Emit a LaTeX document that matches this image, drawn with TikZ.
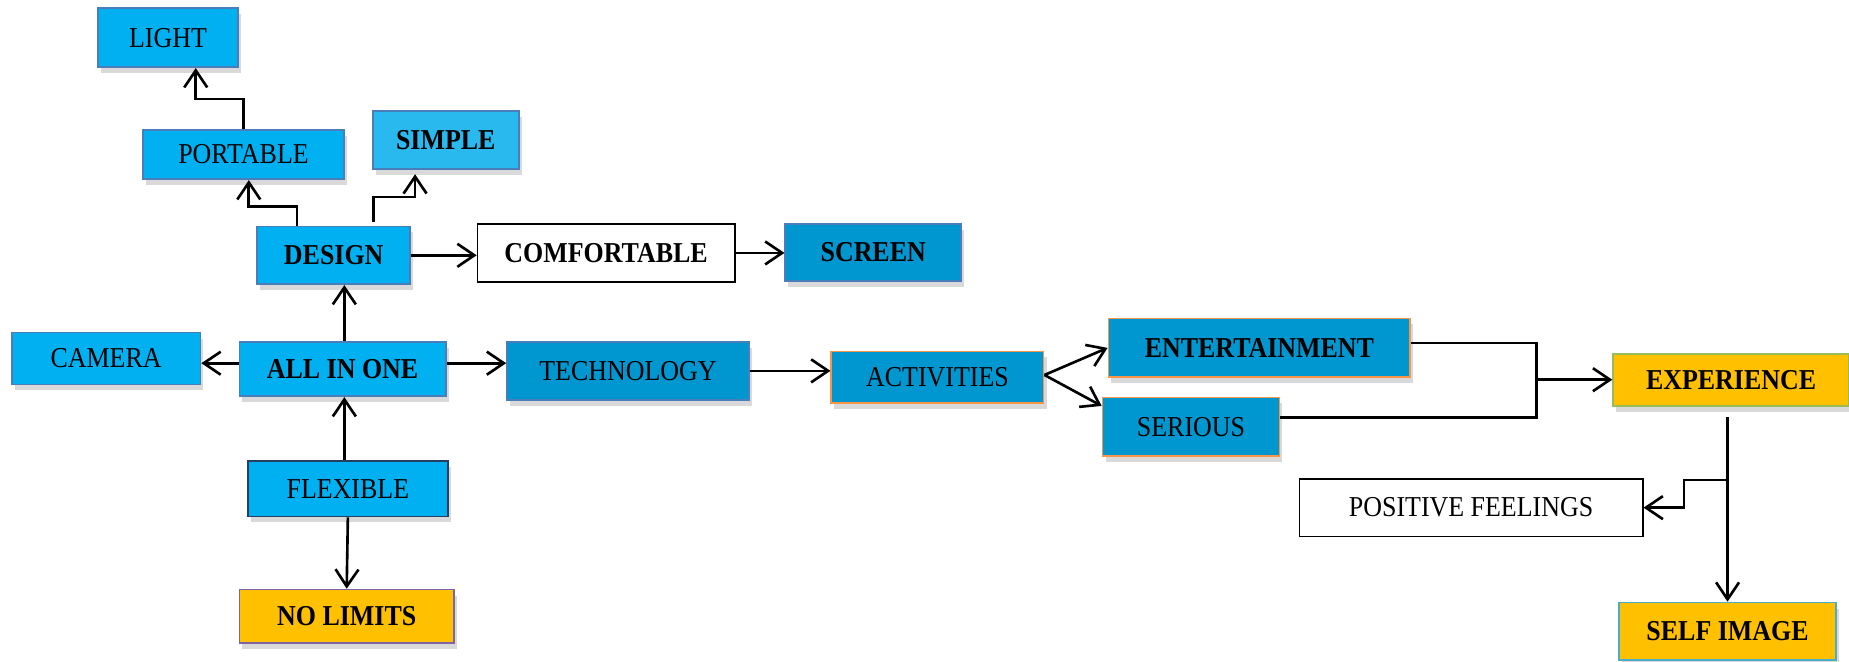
\documentclass[tikz,border=0pt]{standalone}
\usepackage{fontspec}
\setmainfont{Liberation Serif}[FakeStretch=0.9]
\usetikzlibrary{positioning,calc,arrows.meta,shadows}
\definecolor{skyblue}{HTML}{00B0F0}
\definecolor{paleblue}{HTML}{29B9EE}
\definecolor{deepblue}{HTML}{0096CF}
\definecolor{gold}{HTML}{FFC000}
\definecolor{edgeblue}{HTML}{4A7EBB}
\definecolor{edgeorange}{HTML}{F79646}
\definecolor{edgepurple}{HTML}{8064A2}
\definecolor{edgegreen}{HTML}{9BBB59}
\definecolor{edgeteal}{HTML}{4BACC6}
\definecolor{edgedark}{HTML}{243F60}
\begin{document}
\begin{tikzpicture}[x=0.1179mm, y=-0.1179mm,
    sz/.style 2 args={minimum width=#1*0.1179mm, minimum height=#2*0.1179mm},
    box/.style={draw, line width=0.5pt, inner sep=0pt, font=\fontsize{8.2}{9.8}\selectfont},
    bbox/.style={font=\fontsize{8.2}{9.8}\selectfont\bfseries},
    shade/.style={drop shadow={opacity=0.3, shadow xshift=0.3mm, shadow yshift=-0.6mm}},
    bluebox/.style={box, shade, fill=skyblue, draw=edgeblue},
    deepbox/.style={box, shade, fill=deepblue, draw=#1},
    goldbox/.style={box, shade, fill=gold, draw=#1},
    plainbox/.style={box, fill=white, draw=black},
    arr/.style={-{Straight Barb[length=1.7mm, width=2.3mm]}, line width=0.75pt},
    line/.style={line width=0.75pt}]
\useasboundingbox (0,0) rectangle (1568,561);

\node[bluebox, sz={119}{50}] (light) at (142.5,32) {LIGHT};
\node[bluebox, sz={171}{42}] (portable) at (206.5,131) {PORTABLE};
\node[bluebox, fill=paleblue, sz={124}{49}, bbox] (simple) at (378,118.5) {SIMPLE};
\node[bluebox, sz={130}{49}, bbox] (design) at (283,216.5) {DESIGN};
\node[plainbox, sz={218}{49}, bbox] (comfortable) at (514,214.5) {COMFORTABLE};
\node[deepbox=edgeblue, sz={149}{48}, bbox] (screen) at (740.5,214) {SCREEN};
\node[bluebox, sz={160}{44}] (camera) at (90,304) {CAMERA};
\node[bluebox, sz={175}{46}, bbox] (allinone) at (290.5,313) {ALL IN ONE};
\node[deepbox=edgeblue, sz={205}{49}] (technology) at (532.5,314.5) {TECHNOLOGY};
\node[deepbox=edgeorange, sz={180}{44}] (activities) at (795,320) {ACTIVITIES};
\node[deepbox=edgeorange, sz={256}{50}, bbox] (entertainment) at (1068,295) {ENTERTAINMENT};
\node[deepbox=edgeorange, sz={150}{50}] (serious) at (1010,362) {SERIOUS};
\node[goldbox=edgegreen, sz={200}{44}, bbox] (experience) at (1468,322) {EXPERIENCE};
\node[plainbox, sz={291}{49}] (positive) at (1247.5,430.5) {POSITIVE FEELINGS};
\node[goldbox=edgeteal, sz={184}{49}, bbox] (selfimage) at (1465,535.5) {SELF IMAGE};
\node[bluebox, draw=edgedark, sz={170}{47}] (flexible) at (295,414.5) {FLEXIBLE};
\node[goldbox=edgepurple, sz={182}{45}, bbox] (nolimits) at (294,522.5) {NO LIMITS};

\coordinate (b1) at (166,84);
\coordinate (b2) at (211,175);
\coordinate (b3) at (352,167);
\coordinate (j1) at (1303,291);
\coordinate (j2) at (1303,354);
\coordinate (j3) at (1428,407);

\draw[arr] (portable.north) |- (b1) -- (b1 |- light.south);
\draw[arr] ($(design.north)+(-31,0)$) |- (b2) -- (b2 |- portable.south);
\draw[arr] ($(design.north)+(34,-3)$) |- (b3) -- ($(b3 |- simple.south)+(0,4)$);
\draw[arr] (design.east) -- (design.east -| comfortable.west);
\draw[arr] (comfortable.east) -- (comfortable.east -| screen.west);
\draw[arr] ($(allinone.north)+(1.5,0)$) -- ($(allinone.north |- design.south)+(1.5,0)$);
\draw[arr] ($(allinone.west)+(0,-5)$) -- ($(allinone.west -| camera.east)+(0,-5)$);
\draw[arr] ($(allinone.east)+(0,-5)$) -- ($(allinone.east -| technology.west)+(0,-5)$);
\draw[arr] ($(flexible.north -| allinone)+(1.5,0)$) -- ($(allinone.south)+(1.5,0)$);
\draw[arr] (flexible.south) -- (nolimits.north);
\draw[arr] (technology.east) -- (technology.east -| activities.west);
\draw[arr] ($(activities.east)+(0,-2)$) -- (entertainment.west);
\draw[arr] ($(activities.east)+(0,-2)$) -- ($(serious.north west)+(0,8)$);
\draw[line] (entertainment.east |- j1) -- (j1) -- (j2) -- (j2 -| serious.east);
\draw[arr] (j1 |- experience) -- (experience.west);
\draw[arr] ($(selfimage.north |- experience.south)+(0,9)$) -- (selfimage.north);
\draw[arr] (selfimage.north |- j3) -- (j3) |- (positive.east);
\end{tikzpicture}
\end{document}
